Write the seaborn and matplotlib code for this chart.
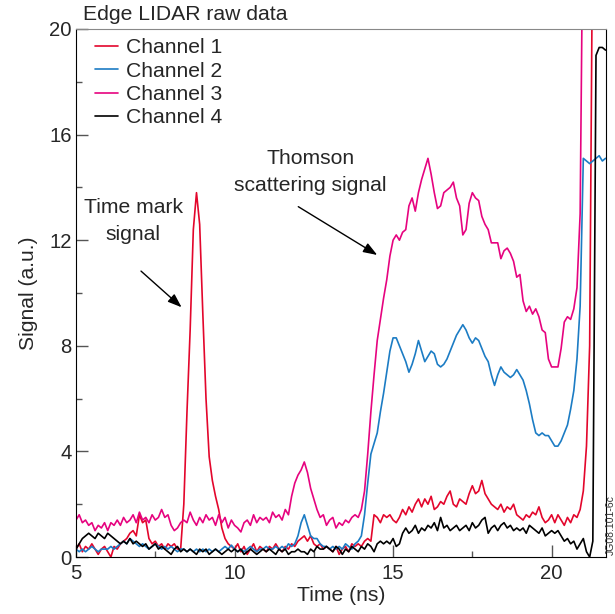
"""
Edge LIDAR raw data - four detector channels vs time.
"""
import numpy as np
import pandas as pd
import matplotlib
matplotlib.use("Agg")
import matplotlib.pyplot as plt
import seaborn as sns
from matplotlib.ticker import MultipleLocator

sns.set_style("ticks")
plt.rcParams["font.family"] = ["Liberation Sans", "DejaVu Sans"]

# %% Data (0.1 ns sampling, 5.0 .. 21.7 ns)
time_ns = np.round(5.0 + 0.1 * np.arange(168), 1)

channel_1 = [
    0.3, 0.5, 0.2, 0.4, 0.3, 0.5, 0.3, 0.1, 0.3, 0.4,
    0.2, 0.0, 0.4, 0.3, 0.5, 0.6, 0.7, 0.9, 1.0, 0.8,
    1.6, 1.3, 1.4, 0.7, 0.5, 0.6, 0.4, 0.5, 0.3, 0.5,
    0.4, 0.5, 0.3, 0.3, 2.0, 5.5, 8.6, 12.4, 13.8, 12.6,
    9.2, 6.0, 3.8, 2.9, 2.3, 1.8, 1.1, 0.7, 0.5, 0.4,
    0.3, 0.5, 0.2, 0.4, 0.1, 0.3, 0.5, 0.2, 0.4, 0.3,
    0.2, 0.4, 0.3, 0.5, 0.3, 0.2, 0.4, 0.3, 0.5, 0.4,
    0.6, 0.7, 0.8, 0.6, 0.8, 0.5, 0.4, 0.5, 0.3, 0.4,
    0.3, 0.2, 0.4, 0.1, 0.3, 0.4, 0.2, 0.5, 0.4, 0.5,
    0.4, 0.6, 0.7, 0.6, 1.6, 1.5, 1.3, 1.6, 1.5, 1.6,
    1.4, 1.3, 1.5, 1.8, 1.6, 1.9, 1.7, 2.0, 2.2, 1.9,
    2.2, 2.0, 2.3, 1.8, 1.9, 2.1, 2.0, 2.3, 2.5, 2.0,
    1.9, 2.2, 2.1, 2.0, 2.4, 2.7, 2.4, 2.5, 2.9, 2.4,
    2.2, 2.0, 1.9, 1.8, 2.0, 1.7, 1.9, 1.8, 2.0, 1.6,
    1.5, 1.4, 1.6, 1.5, 1.7, 1.6, 1.9, 1.5, 1.3, 1.4,
    1.6, 1.3, 1.6, 1.4, 1.2, 1.5, 1.3, 1.6, 1.5, 1.8,
    2.5, 4.2, 8.0, 25.0, 25.0, 25.0, 25.0, 25.0,
]

channel_2 = [
    0.3, 0.2, 0.3, 0.2, 0.3, 0.4, 0.3, 0.2, 0.3, 0.3,
    0.3, 0.4, 0.3, 0.4, 0.5, 0.6, 0.5, 0.7, 0.6, 0.5,
    0.4, 0.5, 0.4, 0.3, 0.4, 0.5, 0.4, 0.3, 0.4, 0.3,
    0.4, 0.3, 0.2, 0.3, 0.3, 0.2, 0.3, 0.2, 0.3, 0.2,
    0.3, 0.2, 0.3, 0.2, 0.3, 0.2, 0.3, 0.4, 0.3, 0.45,
    0.3, 0.2, 0.3, 0.2, 0.3, 0.4, 0.3, 0.2, 0.3, 0.3,
    0.4, 0.3, 0.3, 0.4, 0.3, 0.4, 0.3, 0.5, 0.4, 0.5,
    0.8, 1.3, 1.6, 1.2, 0.8, 0.7, 0.7, 0.5, 0.4, 0.4,
    0.3, 0.4, 0.3, 0.4, 0.3, 0.5, 0.4, 0.3, 0.5, 0.6,
    0.8, 1.6, 2.8, 3.9, 4.3, 4.7, 5.5, 6.2, 7.0, 7.8,
    8.3, 8.3, 8.0, 7.7, 7.4, 7.0, 7.3, 7.7, 8.2, 7.8,
    7.4, 7.6, 7.8, 7.7, 7.3, 7.2, 7.3, 7.5, 7.8, 8.1,
    8.4, 8.6, 8.8, 8.6, 8.3, 8.1, 8.3, 8.2, 7.9, 7.6,
    7.4, 6.9, 6.5, 6.9, 7.2, 7.0, 6.9, 6.8, 6.9, 7.1,
    6.9, 6.7, 6.3, 5.8, 5.2, 4.7, 4.6, 4.7, 4.6, 4.6,
    4.4, 4.2, 4.2, 4.4, 4.7, 5.0, 5.6, 6.3, 7.5, 9.5,
    15.1, 15.0, 14.9, 15.0, 15.1, 15.2, 15.0, 15.1,
]

channel_3 = [
    1.4, 1.6, 1.3, 1.4, 1.2, 1.3, 1.0, 1.2, 1.1, 1.3,
    1.0, 1.3, 1.2, 1.4, 1.2, 1.5, 1.3, 1.4, 1.6, 1.3,
    1.7, 1.4, 1.5, 1.3, 1.6, 1.4, 1.5, 1.8, 1.5, 1.6,
    1.2, 1.0, 1.1, 1.3, 1.4, 1.3, 1.7, 1.4, 1.2, 1.5,
    1.3, 1.6, 1.4, 1.5, 1.2, 1.6, 1.3, 1.5, 1.1, 1.4,
    1.2, 1.1, 0.95, 1.3, 1.4, 1.2, 1.6, 1.3, 1.5, 1.4,
    1.5, 1.3, 1.7, 1.5, 1.6, 1.4, 1.8, 1.6, 2.3, 2.8,
    3.1, 3.3, 3.6, 3.2, 2.6, 2.2, 1.8, 1.5, 1.6, 1.2,
    1.4, 1.5, 1.1, 1.3, 1.2, 1.4, 1.3, 1.5, 1.6, 1.5,
    1.8, 2.5, 3.9, 5.5, 6.9, 8.2, 9.0, 9.8, 10.5, 11.4,
    12.0, 12.2, 12.0, 12.3, 12.4, 13.3, 13.6, 13.1, 13.8, 14.3,
    14.7, 15.1, 14.5, 13.8, 13.2, 13.3, 13.8, 13.9, 14.0, 14.2,
    13.6, 13.3, 12.2, 12.4, 13.4, 13.8, 13.6, 13.5, 12.9, 12.6,
    12.4, 11.9, 11.9, 11.9, 11.3, 11.6, 11.7, 11.5, 11.2, 10.6,
    10.7, 9.7, 9.3, 9.5, 9.2, 9.4, 9.1, 8.6, 8.5, 7.5,
    7.2, 7.2, 7.2, 7.9, 8.9, 9.1, 9.0, 9.4, 10.2, 13.0,
    26.0, 26.0, 26.0, 26.0, 26.0, 26.0, 26.0, 26.0,
]

channel_4 = [
    0.3, 0.5, 0.7, 0.8, 0.9, 0.8, 0.7, 0.9, 0.8, 0.7,
    0.9, 0.8, 0.7, 0.6, 0.5, 0.6, 0.5, 0.7, 0.5, 0.6,
    0.5, 0.4, 0.5, 0.3, 0.4, 0.5, 0.3, 0.4, 0.3, 0.2,
    0.1, 0.3, 0.4, 0.2, 0.3, 0.2, 0.3, 0.2, 0.1, 0.3,
    0.2, 0.3, 0.1, 0.2, 0.3, 0.2, 0.1, 0.2, 0.3, 0.2,
    0.3, 0.2, 0.3, 0.1, 0.2, 0.3, 0.2, 0.1, 0.2, 0.3,
    0.2, 0.3, 0.2, 0.1, 0.3, 0.2, 0.3, 0.1, 0.2, 0.2,
    0.3, 0.2, 0.2, 0.1, 0.3, 0.2, 0.4, 0.3, 0.3, 0.4,
    0.3, 0.2, 0.4, 0.3, 0.1, 0.3, 0.2, 0.4, 0.3, 0.2,
    0.4, 0.3, 0.5, 0.4, 0.2, 0.5, 0.6, 0.5, 0.6, 0.5,
    0.7, 0.4, 0.5, 0.9, 1.1, 0.9, 1.0, 1.2, 0.9, 1.1,
    1.0, 1.2, 1.1, 1.3, 1.0, 1.5, 1.1, 1.2, 1.0, 1.1,
    1.2, 1.0, 1.1, 1.2, 1.0, 1.3, 1.1, 1.2, 1.4, 1.5,
    0.9, 1.1, 1.2, 1.0, 1.2, 1.3, 1.1, 1.2, 1.0, 1.1,
    1.0, 1.1, 0.9, 1.2, 1.1, 1.0, 0.9, 1.1, 0.8, 0.9,
    1.0, 0.9, 1.0, 0.8, 0.6, 0.7, 0.5, 0.6, 0.3, 0.5,
    0.7, 0.2, 0.0, 0.6, 19.0, 19.3, 19.3, 19.2,
]

channel_names = ["Channel 1", "Channel 2", "Channel 3", "Channel 4"]
colors = {"Channel 1": "#e3062c", "Channel 2": "#1c7cc4",
          "Channel 3": "#e6037f", "Channel 4": "#000000"}

df = pd.concat([
    pd.DataFrame({"time": time_ns, "signal": vals, "channel": name})
    for name, vals in zip(channel_names, [channel_1, channel_2, channel_3, channel_4])
], ignore_index=True)

# %% Plot
FS = 15.2
fig = plt.figure(figsize=(6.15, 6.14), dpi=100)
ax = fig.add_axes([0.1236, 0.0928, 0.862, 0.86])

sns.lineplot(data=df, x="time", y="signal", hue="channel", palette=colors,
             hue_order=channel_names, estimator=None, sort=False,
             linewidth=1.2, ax=ax)

ax.set_xlim(5, 21.72)
ax.set_ylim(0, 20)
ax.xaxis.set_major_locator(MultipleLocator(5))
ax.xaxis.set_minor_locator(MultipleLocator(2.5))
ax.yaxis.set_major_locator(MultipleLocator(4))
ax.yaxis.set_minor_locator(MultipleLocator(2))
ax.tick_params(which="both", direction="in", color="#555555", labelsize=14.6, width=1)
ax.tick_params(which="major", length=8.5)
ax.tick_params(axis="y", which="major", pad=3)
ax.tick_params(axis="x", which="major", pad=5)
ax.tick_params(which="minor", length=4.3)
for side in ["left", "bottom", "right"]:
    ax.spines[side].set_color("black")
ax.spines["top"].set_color("#888888")

ax.set_xlabel("Time (ns)", fontsize=FS, labelpad=2)
ax.set_ylabel("Signal (a.u.)", fontsize=FS, labelpad=8)
ax.text(0.013, 1.01, "Edge LIDAR raw data", transform=ax.transAxes,
        fontsize=FS, ha="left", va="bottom")

sns.move_legend(ax, "upper left", bbox_to_anchor=(0.028, 0.99), title=None,
                frameon=False, fontsize=FS, handlelength=1.1, handletextpad=0.35,
                labelspacing=0.2, borderaxespad=0, borderpad=0.2)

arrow = dict(arrowstyle="-|>,head_length=0.6,head_width=0.22", color="black",
             lw=1.0, mutation_scale=14, shrinkA=0, shrinkB=0)
ax.text(6.8, 12.73, "Time mark\nsignal", fontsize=FS, ha="center", va="center",
        linespacing=1.55)
ax.annotate("", xy=(8.33, 9.46), xytext=(7.05, 10.83), arrowprops=arrow)
ax.text(12.4, 14.58, "Thomson\nscattering signal", fontsize=FS, ha="center",
        va="center", linespacing=1.55)
ax.annotate("", xy=(14.5, 11.44), xytext=(12.01, 13.27), arrowprops=arrow)

fig.text(0.9935, 0.096, "JG08.101-6c", rotation=90, fontsize=7.5,
         ha="center", va="bottom", color="#333333")

plt.savefig("out.png", dpi=100)
plt.close()
